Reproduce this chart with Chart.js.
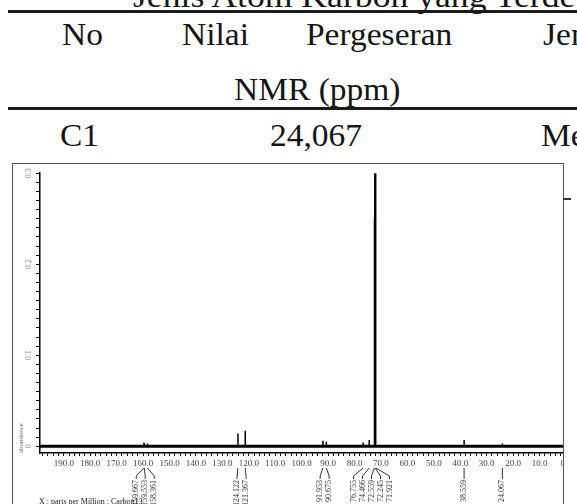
<!DOCTYPE html>
<html>
<head>
<meta charset="utf-8">
<script src="https://cdn.jsdelivr.net/npm/chart.js@4.4.1/dist/chart.umd.min.js"></script>
<style>
  html, body { margin: 0; padding: 0; background: #fff; }
  body { width: 577px; height: 504px; position: relative; overflow: hidden; font-family: "Liberation Serif", serif; color: #141414; }
  .t { position: absolute; font-size: 31px; line-height: 31px; white-space: nowrap; transform: scaleX(1.08); transform-origin: 0 0; }
  .title { transform: scaleX(1.15); }
  .rule { position: absolute; left: 8px; width: 569px; height: 2.5px; background: #1a1a1a; }
  #frame { position: absolute; left: 12px; top: 163px; width: 552px; height: 360px; box-sizing: border-box; border: 1.5px solid #555; border-bottom: none; }
  #stub { position: absolute; left: 563px; top: 198px; width: 8px; height: 1.5px; background: #333; }
  #plot { position: absolute; left: 0; top: 163px; width: 563px; height: 341px; overflow: hidden; }
  #box { position: relative; width: 577px; height: 341px; }
</style>
</head>
<body>
<div class="t title" style="left:133px; top:-19px;">Jenis Atom Karbon yang Terdeteksi</div>
<div class="rule" style="top:10px;"></div>
<div class="t" style="left:62px; top:19px;">No</div>
<div class="t" style="left:182px; top:19px;">Nilai</div>
<div class="t" style="left:306px; top:19px;">Pergeseran</div>
<div class="t" style="left:543px; top:19px;">Jenis Karbon</div>
<div class="t" style="left:234px; top:74px;">NMR (ppm)</div>
<div class="rule" style="top:107px;"></div>
<div class="t" style="left:60px; top:120px;">C1</div>
<div class="t" style="left:270px; top:120px;">24,067</div>
<div class="t" style="left:541px; top:120px;">Metil</div>

<div id="plot"><div id="box"><canvas id="nmr"></canvas></div></div>
<div id="frame"></div>
<div id="stub"></div>

<script>
// 13C NMR peaks (ppm, abundance)
const peakShifts = [159.667, 159.553, 158.361, 124.122, 121.367, 91.953, 90.675, 76.755, 74.466, 72.559, 72.245, 71.921, 38.559, 24.067];
const peakHeights = [0.004, 0.003, 0.003, 0.014, 0.017, 0.006, 0.005, 0.004, 0.007, 0.25, 0.5, 0.24, 0.007, 0.003];

// axis ticks
const xMajorTicks = [190, 180, 170, 160, 150, 140, 130, 120, 110, 100, 90, 80, 70, 60, 50, 40, 30, 20, 10, 0];
const yMajorTicks = [0, 0.1, 0.2, 0.3];
const yTickLabels = ['0', '0.1', '0.2', '0.3'];

// Build the spectrum trace: flat baseline with a spike at each peak
const spectrum = [{ x: 199, y: 0 }];
peakShifts.forEach((p, i) => {
    spectrum.push({ x: p + 0.03, y: 0 });
    spectrum.push({ x: p, y: peakHeights[i] });
    spectrum.push({ x: p - 0.03, y: 0 });
});
spectrum.push({ x: 0, y: 0 });

const baseline = [{ x: 199, y: 0 }, { x: 0, y: 0 }];

// Spread crowded peak labels apart, keep them centred on their group
function spreadLabels(px, gap) {
    const out = px.slice();
    let i = 0;
    while (i < px.length) {
        let j = i;
        while (j + 1 < px.length && px[j + 1] - px[j] < gap) j++;
        const n = j - i + 1;
        let mid = 0;
        for (let k = i; k <= j; k++) mid += px[k];
        mid /= n;
        for (let k = 0; k < n; k++) out[i + k] = mid + (k - (n - 1) / 2) * gap;
        i = j + 1;
    }
    return out;
}

// Extra text the axes can't do: rotated y labels, peak labels, x caption
const overlay = {
    id: 'overlay',
    afterDraw(chart) {
        const { ctx, scales: { x, y } } = chart;
        ctx.save();

        ctx.fillStyle = '#8c8c8c';
        ctx.font = '8px "Liberation Serif"';
        ctx.textAlign = 'center';
        ctx.textBaseline = 'middle';
        yMajorTicks.forEach((v, i) => {
            ctx.save();
            ctx.translate(29, y.getPixelForValue(v));
            ctx.rotate(-Math.PI / 2);
            ctx.fillText(yTickLabels[i], 0, 0);
            ctx.restore();
        });

        const top = y.bottom + 15;
        const px = peakShifts.map(p => x.getPixelForValue(p));
        const lx = spreadLabels(px, 9);
        ctx.strokeStyle = '#333';
        ctx.lineWidth = 1;
        ctx.fillStyle = '#333';
        ctx.textAlign = 'right';
        peakShifts.forEach((p, i) => {
            ctx.beginPath();
            ctx.moveTo(px[i], top);
            ctx.lineTo(lx[i], top + 8);
            ctx.lineTo(lx[i], top + 11);
            ctx.stroke();
            ctx.save();
            ctx.translate(lx[i], top + 12);
            ctx.rotate(-Math.PI / 2);
            ctx.fillText(p.toFixed(3), 0, 0);
            ctx.restore();
        });

        ctx.fillStyle = '#222';
        ctx.textAlign = 'left';
        ctx.textBaseline = 'top';
        ctx.font = '8px "Liberation Serif"';
        ctx.fillText('X : parts per Million : Carbon13', 39, 335);
        ctx.restore();
    }
};

const ctx = document.getElementById('nmr').getContext('2d');
const nmrChart = new Chart(ctx, {
    type: 'line',
    data: {
        datasets: [{
            data: spectrum,
            borderColor: '#000',
            borderWidth: 1.5,
            pointRadius: 0,
            tension: 0
        }, {
            data: baseline,
            borderColor: '#000',
            borderWidth: 3,
            pointRadius: 0
        }]
    },
    options: {
        responsive: true,
        maintainAspectRatio: false,
        animation: false,
        layout: { padding: { left: 0, right: 11, top: 1, bottom: 0 } },
        plugins: { legend: { display: false }, tooltip: { enabled: false } },
        scales: {
            x: {
                type: 'linear',
                reverse: true,
                min: 0,
                max: 199,
                afterFit: s => { s.height = 51; },
                border: { color: '#000', width: 1.5 },
                grid: { drawOnChartArea: false, color: '#000', tickLength: 3 },
                ticks: {
                    stepSize: 2,
                    includeBounds: false,
                    autoSkip: false,
                    maxRotation: 0,
                    padding: 2,
                    color: '#444',
                    font: { family: 'Liberation Serif', size: 9 },
                    callback: v => xMajorTicks.includes(Math.round(v)) && Math.abs(v - Math.round(v)) < 1e-6 ? Number(v).toFixed(1) : ''
                }
            },
            y: {
                min: -0.0074,
                max: 0.3,
                afterFit: s => { s.width = 40; },
                border: { color: '#000', width: 1.5 },
                grid: { drawOnChartArea: false, color: '#000', tickLength: 4 },
                title: {
                    display: true,
                    text: 'abundance',
                    align: 'start',
                    color: '#666',
                    padding: { top: 17, bottom: 0 },
                    font: { family: 'Liberation Serif', size: 7 }
                },
                ticks: {
                    stepSize: 0.01,
                    includeBounds: false,
                    autoSkip: false,
                    callback: () => ''
                }
            }
        }
    },
    plugins: [overlay]
});
</script>
</body>
</html>
